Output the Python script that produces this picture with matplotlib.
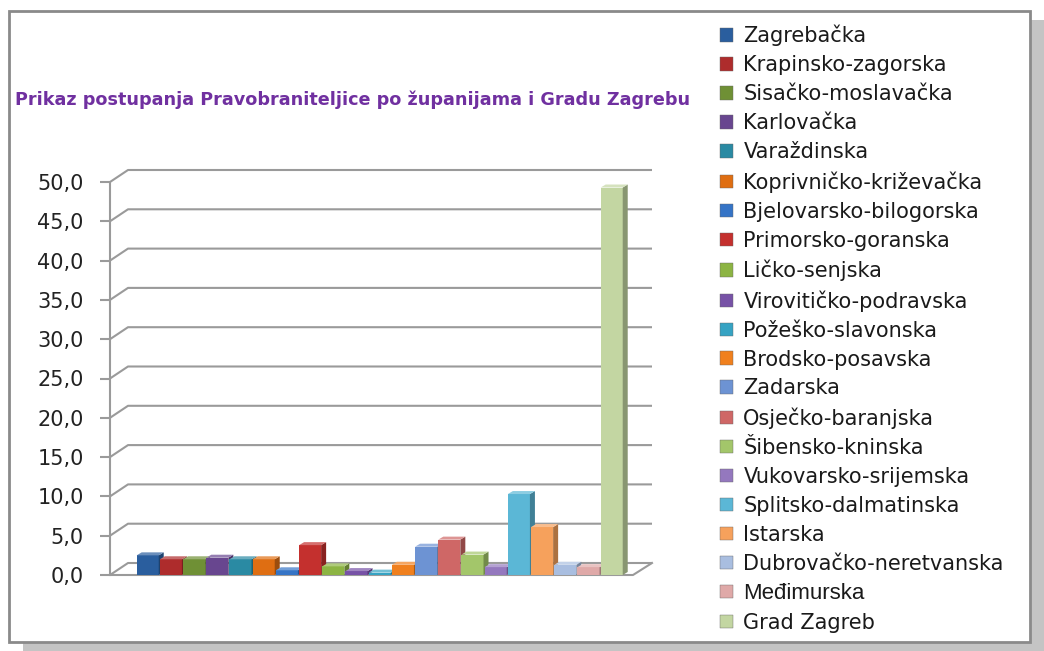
import matplotlib.pyplot as plt
import numpy as np
from matplotlib.patches import Rectangle, Polygon, Patch
import matplotlib.colors as mcolors

zupanije = ['Zagrebačka', 'Krapinsko-zagorska', 'Sisačko-moslavačka', 'Karlovačka',
            'Varaždinska', 'Koprivničko-križevačka', 'Bjelovarsko-bilogorska',
            'Primorsko-goranska', 'Ličko-senjska', 'Virovitičko-podravska',
            'Požeško-slavonska', 'Brodsko-posavska', 'Zadarska', 'Osječko-baranjska',
            'Šibensko-kninska', 'Vukovarsko-srijemska', 'Splitsko-dalmatinska',
            'Istarska', 'Dubrovačko-neretvanska', 'Međimurska', 'Grad Zagreb']
postotak = [2.5, 2.0, 2.0, 2.2, 2.0, 2.0, 0.6, 3.8, 1.1, 0.5, 0.3, 1.3,
            3.6, 4.5, 2.6, 1.0, 10.3, 6.1, 1.3, 1.0, 49.3]
boje = ['#2A5E9E', '#AE2C2C', '#6F9035', '#68468F', '#2A8AA3', '#DF6E12',
        '#3574C6', '#C4302E', '#8CB443', '#7752A6', '#36A3C3', '#F0801E',
        '#6D93D3', '#CF6766', '#A3C66A', '#9478BE', '#5BB7D6', '#F6A15C',
        '#A9BEE0', '#DFA9A8', '#C3D6A2']
yticks = np.arange(0, 51, 5)

W, H = 1044, 651
fig = plt.figure(figsize=(W / 100, H / 100), dpi=100)

# outer frame with shadow
fig.patches.append(Rectangle((23 / W, 0), (W - 23) / W, (H - 20) / H, transform=fig.transFigure,
                             facecolor='#c4c4c4', edgecolor='none', zorder=-2))
fig.patches.append(Rectangle((9 / W, (H - 642) / H), 1021 / W, 631 / H, transform=fig.transFigure,
                             facecolor='white', edgecolor='#8a8a8a', lw=2, zorder=-1))

fig.text(15 / W, 1 - 100 / H, 'Prikaz postupanja Pravobraniteljice po županijama i Gradu Zagrebu',
         color='#7030A0', fontsize=12.7, fontweight='bold', va='center', ha='left')

ax = fig.add_axes([110 / W, (H - 580) / H, 550 / W, 420 / H])
ax.set_zorder(2)
ax.patch.set_alpha(0)
px_x, px_y = 23.2, 7.86
x_left = -1.625
ax.set_xlim(x_left, x_left + 550 / px_x)
ax.set_ylim(-5 / px_y, 415 / px_y)

# wall depth offsets
dx, dy = 18 / px_x, 12 / px_y
x_back_end = (652 - 147.7) / px_x
x_floor_end = (633 - 147.7) / px_x

for v in yticks:
    ax.plot([x_left, x_left + dx, x_back_end], [v, v + dy, v + dy],
            color='#9a9a9a', lw=1.5, zorder=1, solid_capstyle='butt')
ax.plot([x_left, x_floor_end, x_back_end], [0, 0, dy], color='#9a9a9a', lw=1.5, zorder=1)

# bars with a little 3D look
w = 0.95
bdx, bdy = 5 / px_x, 3 / px_y
x = np.arange(len(postotak))
bars = ax.bar(x, postotak, width=w, color=boje, zorder=2, linewidth=0)
for i, (b, v, c) in enumerate(zip(bars, postotak, boje)):
    z = 2 + i * 0.01
    b.set_zorder(z)
    x0 = b.get_x()
    rgb = np.array(mcolors.to_rgb(c))
    dark = rgb * 0.7
    light = rgb + (1 - rgb) * 0.3
    ax.add_patch(Polygon([(x0 + w, 0), (x0 + w + bdx, bdy), (x0 + w + bdx, v + bdy), (x0 + w, v)],
                         closed=True, facecolor=dark, edgecolor='none', zorder=z))
    ax.add_patch(Polygon([(x0, v), (x0 + w, v), (x0 + w + bdx, v + bdy), (x0 + bdx, v + bdy)],
                         closed=True, facecolor=light, edgecolor='none', zorder=z))

for s in ['top', 'right', 'bottom']:
    ax.spines[s].set_visible(False)
ax.spines['left'].set_color('#9a9a9a')
ax.spines['left'].set_linewidth(1.5)
ax.spines['left'].set_bounds(0, 50)
ax.set_xticks([])
ax.set_yticks(yticks)
ax.set_yticklabels([f'{v:.1f}'.replace('.', ',') for v in yticks])
ax.tick_params(axis='y', length=7, width=1.5, color='#9a9a9a', pad=12,
               labelsize=15, labelcolor='#222222')

handles = [Patch(facecolor=c, edgecolor='#666666', linewidth=0.3) for c in boje]
leg = fig.legend(handles, zupanije, loc='upper left', bbox_to_anchor=(720 / W, 1 - 25 / H),
                 frameon=False, fontsize=15, labelspacing=0.43, handlelength=0.62,
                 handleheight=0.62, handletextpad=0.5, borderaxespad=0, borderpad=0)
for t in leg.get_texts():
    t.set_color('#1a1a1a')
    if t.get_text() == 'Međimurska':
        t.set_fontfamily('Liberation Sans')
        t.set_fontsize(16)

fig.savefig('out.png', dpi=100)
